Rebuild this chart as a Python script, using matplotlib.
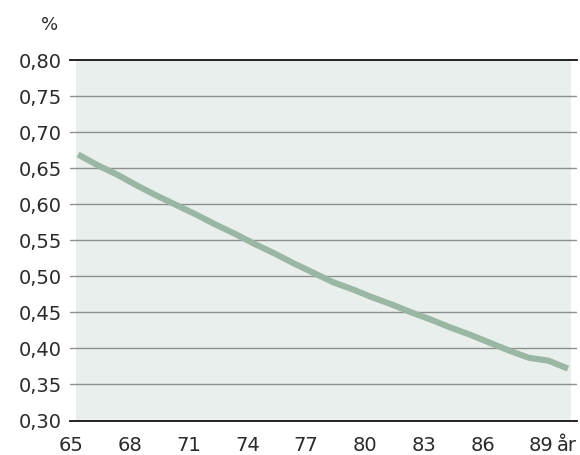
import matplotlib
matplotlib.use("Agg")
import matplotlib.pyplot as plt
import matplotlib.transforms as mtransforms

ages = list(range(65, 91))
values = [0.669, 0.654, 0.641, 0.626, 0.612, 0.599, 0.586, 0.572, 0.559, 0.545,
          0.532, 0.518, 0.505, 0.492, 0.482, 0.471, 0.461, 0.450, 0.440, 0.429,
          0.419, 0.408, 0.397, 0.387, 0.383, 0.372]
xticks = [65, 68, 71, 74, 77, 80, 83, 86, 89]
xticklabels = ["65", "68", "71", "74", "77", "80", "83", "86", "89"]
yticks = [0.30, 0.35, 0.40, 0.45, 0.50, 0.55, 0.60, 0.65, 0.70, 0.75, 0.80]
yticklabels = ["0,30", "0,35", "0,40", "0,45", "0,50", "0,55", "0,60", "0,65", "0,70", "0,75", "0,80"]

plt.rcParams['font.family'] = ['DejaVu Sans']
TXT = "#2a2a2a"
FS = 14
W, H = 580, 455
fig = plt.figure(figsize=(W / 100, H / 100), dpi=100)
ax = fig.add_axes([70 / W, (H - 420.5) / H, (577 - 70) / W, (420.5 - 60) / H])

ax.set_xlim(64.59, 90.46)
ax.set_ylim(0.30, 0.80)

# background panel
ax.axvspan(64.9, 90.15, ymin=0, ymax=1, color="#e8efec", lw=0, zorder=0)

# gridlines
for y in yticks:
    if y in (0.30, 0.80):
        ax.axhline(y, color="#111111", lw=1.3, zorder=2, clip_on=False)
    else:
        ax.axhline(y, color="#8f8f8f", lw=1.0, zorder=1)

ax.plot(ages, values, color="#9ab7a3", lw=4.4, solid_capstyle="butt", zorder=3)

for s in ax.spines.values():
    s.set_visible(False)
ax.set_facecolor("none")

ax.set_yticks(yticks)
ax.set_yticklabels(yticklabels, fontsize=FS, color=TXT)
ax.set_xticks(xticks)
ax.set_xticklabels(xticklabels, fontsize=FS, color=TXT)
ax.tick_params(axis="both", length=0)
ax.tick_params(axis="y", pad=6.0)
ax.tick_params(axis="x", pad=11.5)

offset = mtransforms.ScaledTranslation(-7 / 100, 0, fig.dpi_scale_trans)
for lab in ax.get_xticklabels():
    lab.set_transform(lab.get_transform() + offset)

ax.annotate("år", xy=(567, 0), xycoords=("figure pixels", "axes fraction"),
            xytext=(0, -11.5), textcoords="offset points",
            ha="center", va="top", fontsize=FS, color=TXT)
fig.text(50 / W, (H - 25) / H, "%", ha="center", va="center", fontsize=13, color=TXT)

fig.savefig("out.png", dpi=100)
